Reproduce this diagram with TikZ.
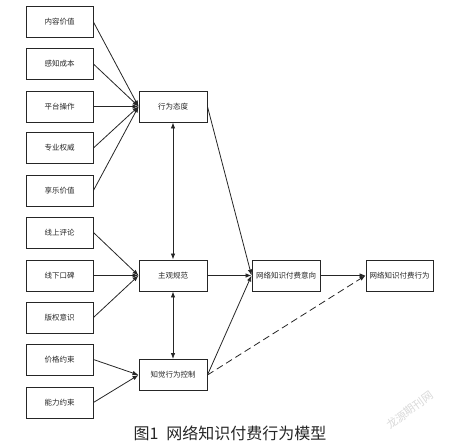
\documentclass[tikz,border=0pt]{standalone}
\usepackage{fontspec}
\setmainfont{Noto Sans CJK SC}
\usetikzlibrary{arrows.meta}
\begin{document}
\begin{tikzpicture}[x=1pt,y=-1pt,
  box/.style={draw=black!85, line width=0.9pt, minimum width=67pt, minimum height=31pt, inner sep=0pt, font=\fontsize{7.5}{9}\selectfont, text=black!85},
  arr/.style={-{Latex[length=6pt,width=4.5pt]}, line width=0.8pt, draw=black!85},
  darr/.style={{Latex[length=6pt,width=4.5pt]}-{Latex[length=6pt,width=4.5pt]}, line width=0.8pt, draw=black!85},
  dasharr/.style={arr, dash pattern=on 7pt off 4pt}]
\useasboundingbox (0,0) rectangle (450,444);
\node[box] (a1) at (59.5,22) {内容价值};
\node[box] (a2) at (59.5,64) {感知成本};
\node[box] (a3) at (59.5,106.5) {平台操作};
\node[box] (a4) at (59.5,148) {专业权威};
\node[box] (a5) at (59.5,190.5) {享乐价值};
\node[box] (b1) at (59.5,232.5) {线上评论};
\node[box] (b2) at (59.5,275.5) {线下口碑};
\node[box] (b3) at (59.5,317.5) {版权意识};
\node[box] (c1) at (59.5,359.5) {价格约束};
\node[box] (c2) at (59.5,402.5) {能力约束};
\node[box, minimum width=68pt] (att) at (173,106.5) {行为态度};
\node[box, minimum width=68pt] (sn) at (173,275.5) {主观规范};
\node[box, minimum width=68pt] (pbc) at (173,375) {知觉行为控制};
\node[box, minimum width=68pt] (int) at (286,275.5) {网络知识付费意向};
\node[box, minimum width=67pt] (beh) at (399.5,275.5) {网络知识付费行为};
\foreach \n in {a1,a2,a3,a4,a5} \draw[arr] (\n.east) -- (att.west);
\foreach \n in {b1,b2,b3} \draw[arr] (\n.east) -- (sn.west);
\foreach \n in {c1,c2} \draw[arr] (\n.east) -- (pbc.west);
\draw[darr] (att.south) -- (sn.north);
\draw[darr] (sn.south) -- (pbc.north);
\draw[arr] (att.east) -- (int.west);
\draw[arr] (sn.east) -- (int.west);
\draw[arr] (pbc.east) -- (int.west);
\draw[arr] (int.east) -- (beh.west);
\draw[dasharr] (pbc.east) -- (beh.west);
\node[font=\fontsize{16}{18}\selectfont, text=black!85] (cap) at (230,433) {图1\hspace{0.5em}网络知识付费行为模型};
\node[font=\fontsize{11}{12}\selectfont, text=black!15, rotate=36] (wm) at (410,410) {龙源期刊网};
\end{tikzpicture}
\end{document}
